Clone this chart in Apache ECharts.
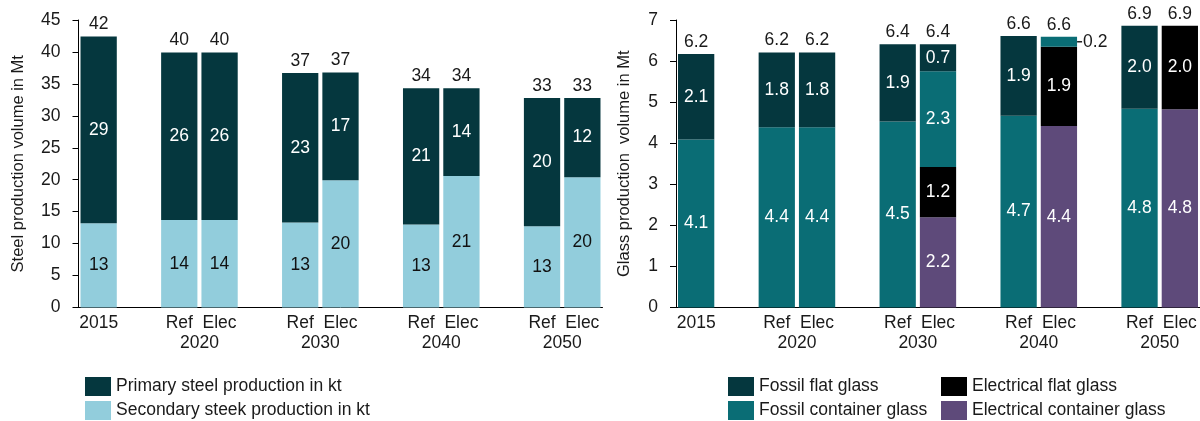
<!DOCTYPE html>
<html>
<head>
<meta charset="utf-8">
<script src="https://cdn.jsdelivr.net/npm/echarts@6/dist/echarts.min.js"></script>
<style>
  html, body { margin: 0; padding: 0; background: #fff; }
  #chart { width: 1200px; height: 421px; }
</style>
</head>
<body>
<div id="chart"></div>
<script>
// Bar order: 2015, then a Ref / Elec pair for every scenario year
const firstYear = '2015';
const scenarioYears = ['2020', '2030', '2040', '2050'];
const scenarios = ['Ref', 'Elec'];

// Steel production in Mt (2015, Ref 2020, Elec 2020, Ref 2030, Elec 2030, ...)
const secondarySteel = [13.2, 13.7, 13.7, 13.3, 19.9, 13.0, 20.6, 12.7, 20.4];
const primarySteel   = [29.2, 26.2, 26.2, 23.4, 16.9, 21.3, 13.7, 20.1, 12.4];

// Glass production in Mt, same bar order
const fossilContainerGlass = [4.09, 4.39, 4.39, 4.53, 2.33, 4.67, 0.24, 4.84, null];
const fossilFlatGlass      = [2.08, 1.82, 1.82, 1.88, 0.66, 1.94, null, 2.02, null];
const elecContainerGlass   = [null, null, null, null, 2.20, null, 4.42, null, 4.83];
const elecFlatGlass        = [null, null, null, null, 1.22, null, 1.93, null, 2.03];

// Value axis ranges
const steelAxis = { min: 0, max: 45, step: 5 };
const glassAxis = { min: 0, max: 7, step: 1 };

const FONT = "'Liberation Sans', Arial, sans-serif";
const TEXT = '#1a1a1a';
const FS = 17.5;

// Category slots: one empty slot in front of every year pair
const slots = [firstYear];
const barSlot = [0];
scenarioYears.forEach(y => {
  slots.push('gap ' + y);
  scenarios.forEach(s => { barSlot.push(slots.length); slots.push(s + ' ' + y); });
});
const expand = vals => {
  const out = slots.map(() => null);
  vals.forEach((v, i) => { out[barSlot[i]] = v; });
  return out;
};
const sumOf = (...arrs) => arrs[0].map((_, i) => arrs.reduce((acc, a) => acc + (a[i] == null ? 0 : a[i]), 0));

// Year captions sit between the Ref and Elec bars (half-slot units)
const yearPos = scenarioYears.map(y => 2 * (slots.indexOf('Ref ' + y) + 1));

const steelTotals = sumOf(secondarySteel, primarySteel);
const glassTotals = sumOf(fossilContainerGlass, fossilFlatGlass, elecContainerGlass, elecFlatGlass);

const catAxis = gridIndex => ({
  type: 'category', gridIndex, data: slots, boundaryGap: true,
  axisLine: { lineStyle: { color: '#000', width: 1 } },
  axisTick: { show: false },
  axisLabel: {
    interval: 0, margin: 7, color: TEXT, fontFamily: FONT, fontSize: FS,
    formatter: k => k.startsWith('gap') ? '' : k.split(' ')[0]
  }
});
const yearAxis = gridIndex => ({
  type: 'value', gridIndex, position: 'bottom', offset: 20,
  min: 0, max: 2 * slots.length, interval: 6,
  axisLine: { show: false }, axisTick: { show: false }, splitLine: { show: false },
  axisLabel: {
    margin: 7, color: TEXT, fontFamily: FONT, fontSize: FS, showMaxLabel: false,
    formatter: v => { const i = yearPos.indexOf(v); return i >= 0 ? scenarioYears[i] : ''; }
  }
});
const valAxis = (gridIndex, r, name, nameGap) => ({
  type: 'value', gridIndex, min: r.min, max: r.max, interval: r.step,
  name, nameLocation: 'middle', nameGap,
  nameTextStyle: { color: TEXT, fontFamily: FONT, fontSize: 16.5 },
  axisLine: { show: true, lineStyle: { color: '#000', width: 1 } },
  axisTick: { show: true, length: 6, lineStyle: { color: '#000' } },
  splitLine: { show: false },
  axisLabel: { margin: 18, color: TEXT, fontFamily: FONT, fontSize: FS }
});

const insideLabel = (color, fmt) => ({
  show: true, position: 'inside', color, fontFamily: FONT, fontSize: FS, formatter: fmt
});
const roundInt = p => String(Math.round(p.value));
const oneDec = p => Number(p.value).toFixed(1);

const barSeries = (name, data, color, xi, yi, stack, labelColor, fmt) => ({
  name, type: 'bar', stack, xAxisIndex: xi, yAxisIndex: yi,
  barCategoryGap: '10%', data,
  itemStyle: { color },
  label: insideLabel(labelColor, fmt)
});
// Invisible points at the top of each stack carrying the total label
const totalSeries = (data, xi, yi, fmt) => ({
  type: 'scatter', xAxisIndex: xi, yAxisIndex: yi, data, symbolSize: 0, silent: true, z: 5,
  itemStyle: { color: 'rgba(0,0,0,0)', opacity: 1 },
  label: { show: true, position: 'top', distance: 3, color: TEXT, opacity: 1, fontFamily: FONT, fontSize: FS, formatter: fmt }
});

const C = {
  dark: '#05373e', light: '#92cddc', teal: '#0a6d75', black: '#000000', purple: '#5e4a7a'
};

// Small segments get their label outside, to the right, behind a short leader dash
const glassContainerData = expand(fossilContainerGlass).map(v => (v != null && v < 0.5) ? {
  value: v,
  label: {
    position: 'right', distance: 0,
    formatter: p => '{d|}{v|' + Number(p.value).toFixed(1) + '}',
    rich: {
      d: { width: 5, height: 1.5, backgroundColor: '#222', verticalAlign: 'middle' },
      v: { color: TEXT, fontFamily: FONT, fontSize: FS, padding: [0, 0, 0, 1] }
    }
  }
} : v);

const legendAt = (left, names) => ({
  orient: 'vertical', left, top: 377, padding: 0,
  itemWidth: 26, itemHeight: 19, itemGap: 5,
  icon: 'rect', selectedMode: false, data: names,
  textStyle: { color: TEXT, fontFamily: FONT, fontSize: FS, lineHeight: 19 }
});

const chart = echarts.init(document.getElementById('chart'), null, { renderer: 'canvas' });
chart.setOption({
  animation: false,
  backgroundColor: '#fff',
  grid: [
    { left: 78.5, top: 20, width: 524, height: 287.5 },
    { left: 676, top: 20, width: 525, height: 287.5 }
  ],
  xAxis: [catAxis(0), yearAxis(0), catAxis(1), yearAxis(1)],
  yAxis: [
    valAxis(0, steelAxis, 'Steel production volume in Mt', 52),
    valAxis(1, glassAxis, 'Glass production  volume in Mt', 43)
  ],
  legend: [
    legendAt(85, ['Primary steel production in kt', 'Secondary steek production in kt']),
    legendAt(728, ['Fossil flat glass', 'Fossil container glass']),
    legendAt(941, ['Electrical flat glass', 'Electrical container glass'])
  ],
  series: [
    barSeries('Secondary steek production in kt', expand(secondarySteel), C.light, 0, 0, 'steel', '#111', roundInt),
    barSeries('Primary steel production in kt', expand(primarySteel), C.dark, 0, 0, 'steel', '#fff', roundInt),
    totalSeries(expand(steelTotals), 0, 0, roundInt),

    barSeries('Electrical container glass', expand(elecContainerGlass), C.purple, 2, 1, 'glass', '#fff', oneDec),
    barSeries('Electrical flat glass', expand(elecFlatGlass), C.black, 2, 1, 'glass', '#fff', oneDec),
    barSeries('Fossil container glass', glassContainerData, C.teal, 2, 1, 'glass', '#fff', oneDec),
    barSeries('Fossil flat glass', expand(fossilFlatGlass), C.dark, 2, 1, 'glass', '#fff', oneDec),
    totalSeries(expand(glassTotals), 2, 1, oneDec)
  ]
});
</script>
</body>
</html>
